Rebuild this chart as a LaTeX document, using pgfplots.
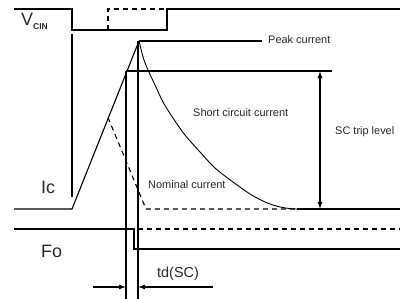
\documentclass[border=0pt]{standalone}
\usepackage{pgfplots}
\pgfplotsset{compat=1.18}
\usepackage{fontspec}
\setmainfont{Liberation Sans}
\usetikzlibrary{arrows.meta}
\definecolor{txt}{RGB}{40,40,40}
\begin{document}
\begin{tikzpicture}
\begin{axis}[name=ax,width=400bp,height=299bp,scale only axis,
  xmin=0,xmax=400,ymin=0,ymax=299,y dir=reverse,hide axis,clip=false,
  cycle list={{black,solid,mark=none}},
  every axis plot/.append style={black,line width=1.1bp,mark=none}]
% V_CIN
\addplot coordinates {(14,9)(72,9)(72,30)(167,30)(167,9)(400,9)};
\addplot[black,dash pattern=on 5bp off 4bp] coordinates {(108,30)(108,9)(167,9)};
% left vertical
\addplot coordinates {(72,34)(72,197)};
% Ic baseline and rise
\addplot coordinates {(14,209)(72,209)(139,41)};
% Peak and trip level lines
\addplot coordinates {(139,41)(262,41)};
\addplot coordinates {(126,71)(332,71)};
% verticals
\addplot coordinates {(126,71)(126,299)};
\addplot coordinates {(138,41)(138,299)};
% short circuit decay
\addplot[black,smooth,line width=0.9bp] coordinates {(139,41)(141.5,51)(144,60)(148,70)(155,85)(163,102)(173,118)(185,135)(200,152)(215,168)(233,182)(250,194)(265,202)(278,206.5)(290,208.6)(297,209)};
\addplot coordinates {(297,209)(400,209)};
% nominal dashed
\addplot[black,dash pattern=on 5bp off 4bp] coordinates {(108,117.5)(146,209)(297,209)};
% Fo
\addplot coordinates {(14,229)(134,229)(134,249)(400,249)};
\addplot[black,dash pattern=on 5bp off 4bp] coordinates {(138,229)(400,229)};
% SC trip arrow
\addplot[black,{Latex[length=7bp,width=5bp]}-{Latex[length=7bp,width=5bp]}] coordinates {(320,71)(320,209)};
% td arrows
\addplot[black,-{Latex[length=7bp,width=5bp]}] coordinates {(93,287)(126,287)};
\addplot[black,-{Latex[length=7bp,width=5bp]}] coordinates {(213,287)(138,287)};
% labels
\node[anchor=base west,inner sep=0,text=txt,font=\fontsize{18}{20}\selectfont] at (axis cs:21,26) {V\raisebox{-0.35ex}{\fontsize{8.5}{10}\selectfont\bfseries CIN}};
\node[anchor=base west,inner sep=0,text=txt,font=\fontsize{18}{20}\selectfont] at (axis cs:41,193) {Ic};
\node[anchor=base west,inner sep=0,text=txt,font=\fontsize{18}{20}\selectfont] at (axis cs:41,257) {Fo};
\node[anchor=base west,inner sep=0,text=txt,font=\fontsize{11}{13}\selectfont] at (axis cs:268,44) {Peak current};
\node[anchor=base west,inner sep=0,text=txt,font=\fontsize{11}{13}\selectfont] at (axis cs:193,116) {Short circuit current};
\node[anchor=base west,inner sep=0,text=txt,font=\fontsize{11}{13}\selectfont] at (axis cs:335,134) {SC trip level};
\node[anchor=base west,inner sep=0,text=txt,font=\fontsize{11}{13}\selectfont] at (axis cs:148,188) {Nominal current};
\node[anchor=base west,inner sep=0,text=txt,font=\fontsize{14.5}{16}\selectfont] at (axis cs:157,277) {td(SC)};
\end{axis}
\pgfresetboundingbox
\path (ax.south west) rectangle (ax.north east);
\end{tikzpicture}
\end{document}
